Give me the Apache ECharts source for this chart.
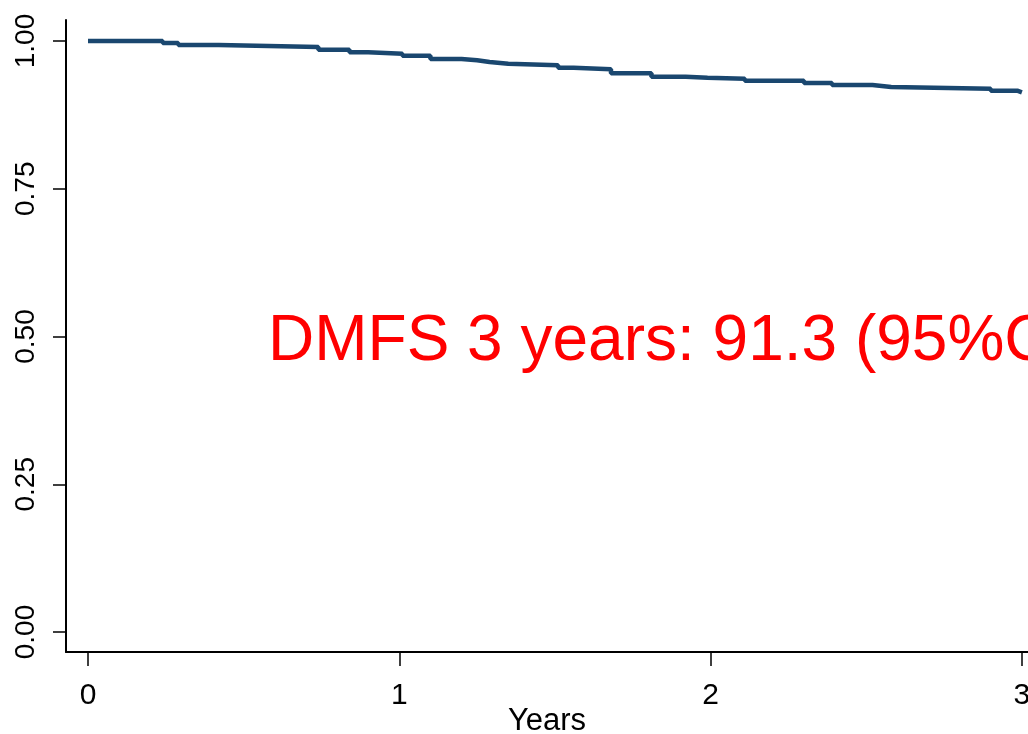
<!DOCTYPE html>
<html>
<head>
<meta charset="utf-8">
<script src="https://cdn.jsdelivr.net/npm/echarts@6/dist/echarts.min.js"></script>
<style>
html,body{margin:0;padding:0;background:#fff;}
#chart{width:1028px;height:734px;}
</style>
</head>
<body>
<div id="chart"></div>
<script>
// Kaplan-Meier step points: time (years) and survival estimate holding from that time
const times = [0, 0.24, 0.29, 0.42, 0.54, 0.74, 0.84, 0.90, 1.01, 1.10, 1.20, 1.25, 1.29, 1.35, 1.51, 1.56, 1.68, 1.81, 1.92, 1.99, 2.11, 2.30, 2.39, 2.52, 2.58, 2.90, 2.985, 3.0];
const survival = [1.000, 0.9966, 0.9932, 0.9920, 0.9898, 0.9853, 0.9809, 0.9785, 0.9751, 0.9695, 0.9673, 0.9645, 0.9616, 0.9589, 0.9548, 0.9521, 0.9453, 0.9396, 0.9379, 0.9362, 0.9328, 0.9289, 0.9255, 0.9222, 0.9193, 0.9159, 0.913, 0.913];
const xTicks = [0, 1, 2, 3];
const yTicks = [0, 0.25, 0.5, 0.75, 1];
const annotation = 'DMFS 3 years: 91.3 (95%CI: 88.9-93.2)';
const xTitle = 'Years';

const data = times.map((t, i) => [t, survival[i]]);
const font = '"Liberation Sans", Arial, Helvetica, sans-serif';

const chart = echarts.init(document.getElementById('chart'), null, {renderer: 'canvas'});
chart.setOption({
  animation: false,
  backgroundColor: '#ffffff',
  grid: {left: 66, top: 20, right: 0, bottom: 82, containLabel: false, outerBoundsMode: 'none'},
  xAxis: {
    type: 'value',
    min: -0.0707,
    max: 3.0196,
    name: xTitle,
    nameLocation: 'middle',
    nameGap: 54,
    nameMoveOverlap: false,
    nameTextStyle: {fontFamily: font, fontSize: 31, color: '#000'},
    axisLine: {show: true, onZero: false, lineStyle: {color: '#000', width: 2}},
    axisTick: {show: true, length: 14, lineStyle: {color: '#000', width: 1.5}, customValues: xTicks},
    axisLabel: {fontFamily: font, fontSize: 30, color: '#000', margin: 29, customValues: xTicks,
      formatter: v => String(Math.round(v))},
    splitLine: {show: false}
  },
  yAxis: {
    type: 'value',
    min: -0.0338,
    max: 1.0355,
    axisLine: {show: true, onZero: false, lineStyle: {color: '#000', width: 2}},
    axisTick: {show: true, length: 13, lineStyle: {color: '#000', width: 1.5}, customValues: yTicks},
    axisLabel: {fontFamily: font, fontSize: 28, color: '#000', rotate: 90, margin: 26, customValues: yTicks,
      formatter: v => v.toFixed(2)},
    splitLine: {show: false}
  },
  series: [{
    type: 'line',
    step: 'end',
    data: data,
    showSymbol: false,
    symbol: 'none',
    lineStyle: {color: '#1a476f', width: 4.5},
    clip: false
  }],
  graphic: [{
    type: 'text',
    left: 268,
    top: 310,
    style: {text: annotation, fill: '#ff0000', font: '64px ' + font}
  }]
});
</script>
</body>
</html>
